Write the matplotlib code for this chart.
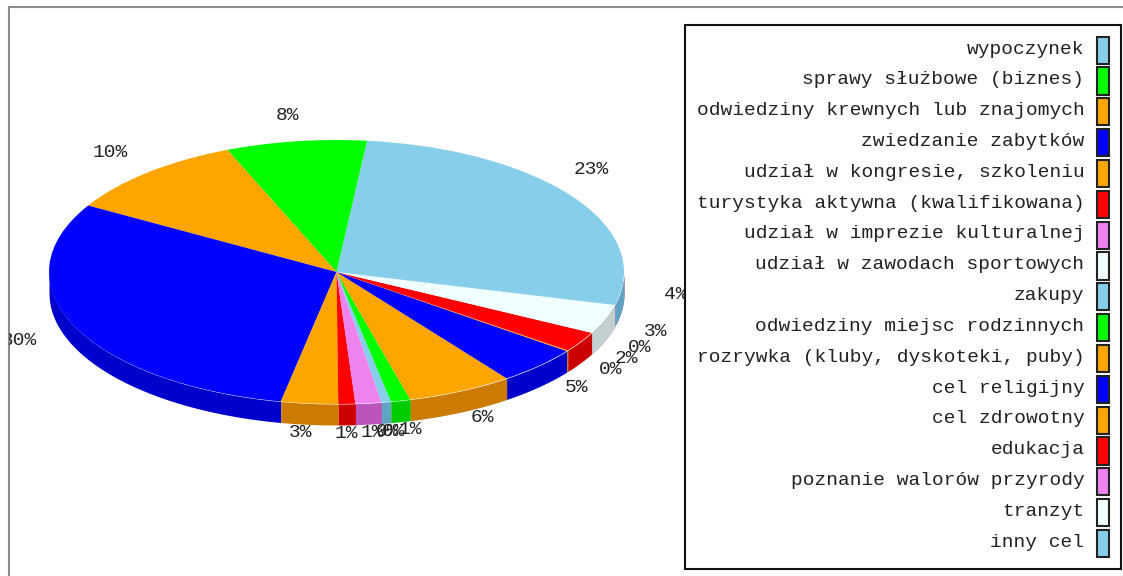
import matplotlib
matplotlib.use("Agg")
import matplotlib.pyplot as plt
from matplotlib.patches import Patch
import numpy as np

categories = ["wypoczynek", "sprawy służbowe (biznes)", "odwiedziny krewnych lub znajomych",
              "zwiedzanie zabytków", "udział w kongresie, szkoleniu", "turystyka aktywna (kwalifikowana)",
              "udział w imprezie kulturalnej", "udział w zawodach sportowych", "zakupy",
              "odwiedziny miejsc rodzinnych", "rozrywka (kluby, dyskoteki, puby)", "cel religijny",
              "cel zdrowotny", "edukacja", "poznanie walorów przyrody", "tranzyt", "inny cel"]
values = [23.3, 7.9, 10.4, 30.3, 3.2, 0.95, 1.45, 0.0, 0.53, 1.1, 5.95, 4.7, 0.1, 2.5, 0.0, 3.6, 4.02]
labels = ["23%", "8%", "10%", "30%", "3%", "1%", "1%", "0%", "0%", "1%", "6%", "5%", "0%", "2%", "0%", "3%", "4%"]
colors = ["#87ceeb", "#00ff00", "#ffa500", "#0000ff", "#ffa500", "#ff0000", "#ee82ee", "#f0ffff", "#87ceeb",
          "#00ff00", "#ffa500", "#0000ff", "#ffa500", "#ff0000", "#ee82ee", "#f0ffff", "#87ceeb"]
side_colors = ["#5fa5c2", "#00cc00", "#cc7a00", "#0000cc", "#cc7a00", "#cc0000", "#bb55bb", "#c2d0d0", "#5fa5c2",
               "#00cc00", "#cc7a00", "#0000cc", "#cc7a00", "#cc0000", "#bb55bb", "#c2d0d0", "#5fa5c2"]

W, H = 1123, 576
FONT = "Liberation Mono"
FONTSIZE = 14
fig = plt.figure(figsize=(W / 100, H / 100), dpi=100, facecolor="white")
left, top = 9, 7
ax = fig.add_axes([left / W, 0, (W - left) / W, (H - top) / H])

wedges, _, autotexts = ax.pie(
    values, colors=colors, startangle=0, counterclock=True, radius=1, frame=True,
    autopct="%d", pctdistance=1.2,
    wedgeprops={"linewidth": 0, "zorder": 3},
    textprops={"family": FONT, "fontsize": FONTSIZE, "color": "#222222", "clip_on": True, "zorder": 4},
)

cx, cy, rx, ry = 336.5, 272.0, 287.5, 132.0
# labels of the lower half sit a little lower and to the left, past the side wall
for t, s in zip(autotexts, labels):
    t.set_text(s)
    x, y = t.get_position()
    if y < 0:
        t.set_position((x - 3 / rx, y - 3 / ry))
    elif x > 0:
        t.set_position((x - 2 / rx, y - 3 / ry))

# side wall of the tilted pie
DEPTH = 21 / ry
for w, c in zip(wedges, side_colors):
    a0, a1 = w.theta1 % 360, w.theta2 % 360
    if a1 <= a0:
        a1 += 360
    lo, hi = max(a0, 180), min(a1, 360)
    if hi <= lo:
        continue
    th = np.radians(np.linspace(lo, hi, 120))
    ax.fill_between(np.cos(th), np.sin(th), np.sin(th) - DEPTH, color=c, linewidth=0, zorder=2)

ax.set_aspect("auto")
ax.set_xlim((left - cx) / rx, (W - cx) / rx)
ax.set_ylim((cy - H) / ry, (cy - top) / ry)
ax.set_xticks([])
ax.set_yticks([])
for s in ("right", "bottom"):
    ax.spines[s].set_visible(False)
for s in ("top", "left"):
    ax.spines[s].set_color("#8c8c8c")
    ax.spines[s].set_linewidth(1.5)

handles = [Patch(facecolor=c, edgecolor="#222222", linewidth=1.5) for c in colors]
leg = fig.legend(
    handles, categories, loc="upper left", bbox_to_anchor=(685 / W, 1 - 25 / H),
    bbox_transform=fig.transFigure, borderaxespad=0,
    markerfirst=False, fancybox=False, framealpha=1, edgecolor="#111111",
    prop={"family": FONT, "size": FONTSIZE}, labelcolor="#222222",
    handlelength=0.6, handleheight=1.77, handletextpad=0.66,
    labelspacing=0.19, borderpad=0.6,
)
leg.get_frame().set_linewidth(1.5)
for t in leg.get_texts():
    t.set_position((0, 3))
fig.savefig("out.png", dpi=100)
